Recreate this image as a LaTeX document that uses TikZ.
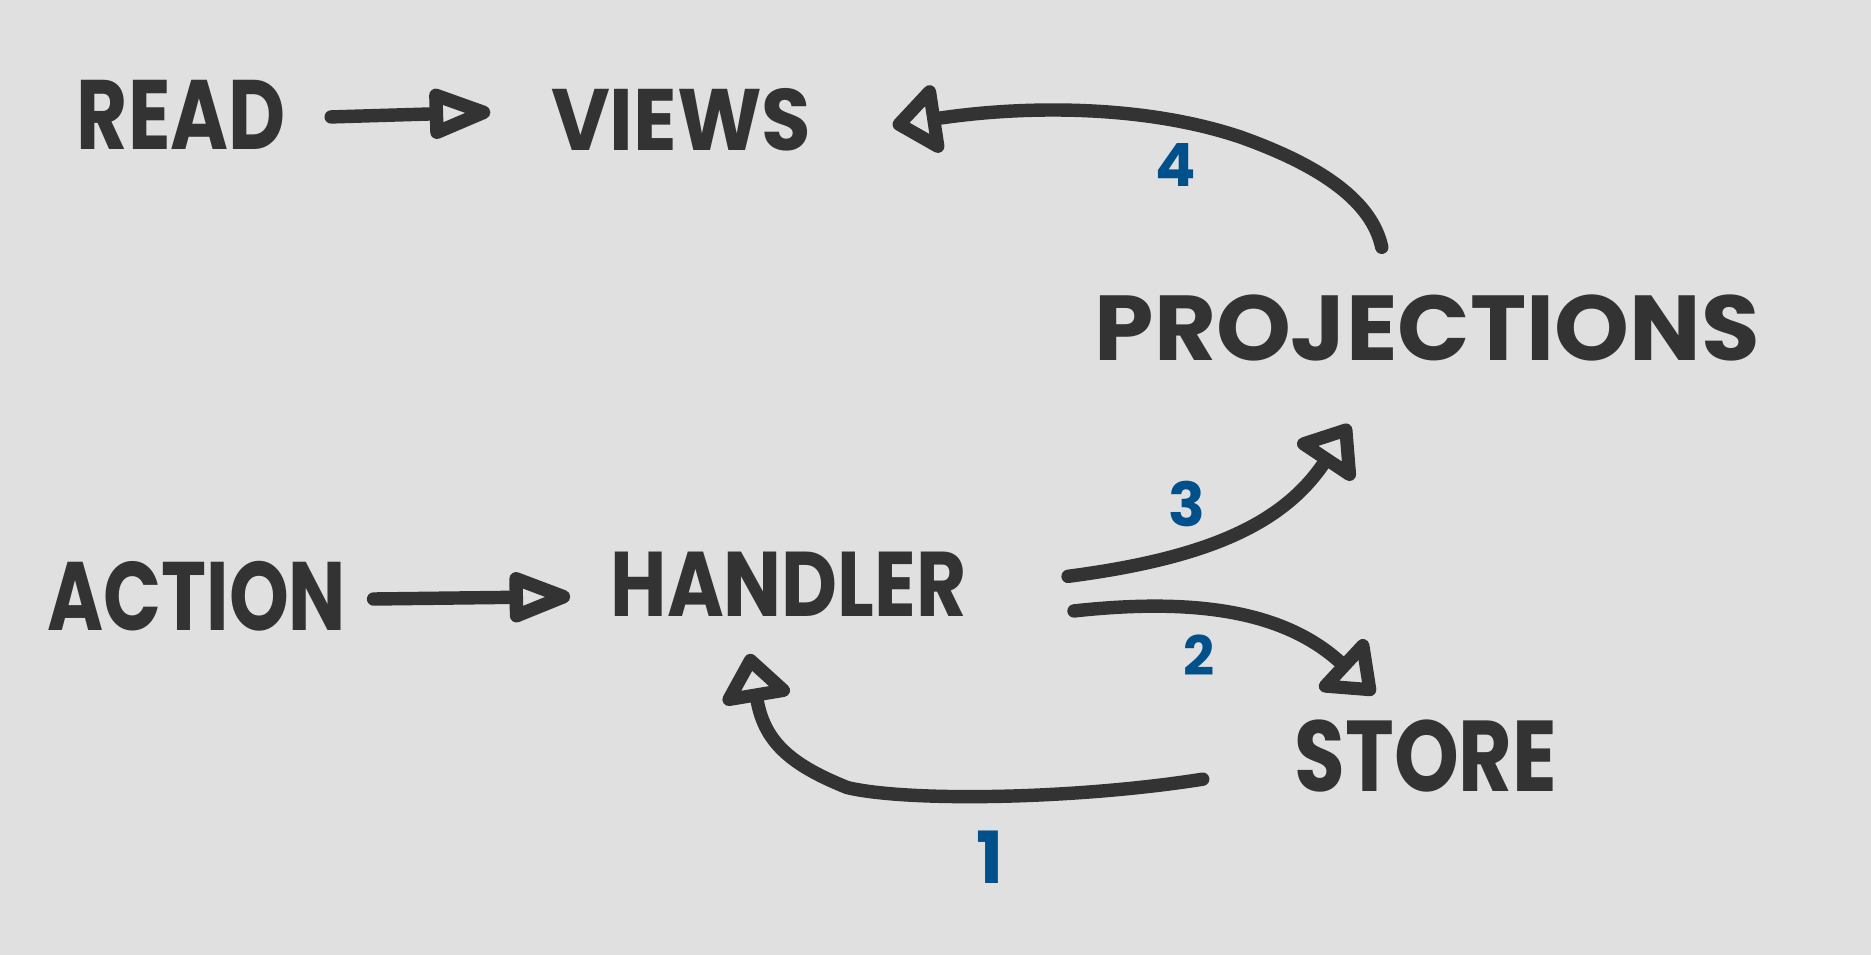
\documentclass[tikz,border=0pt]{standalone}
\usepackage{fontspec}
\usetikzlibrary{arrows.meta}
\newfontfamily\hand{Poppins}
\definecolor{bgc}{HTML}{E0E0E0}
\definecolor{ink}{HTML}{333333}
\definecolor{numblue}{HTML}{00508C}
\newcommand\hw[3]{\resizebox{#1cm}{#2cm}{\hand\bfseries #3}}
\tikzset{
  word/.style={inner sep=0pt, outer sep=0pt, text=ink},
  num/.style={inner sep=0pt, outer sep=0pt, text=numblue},
  conn/.style={draw=ink, line width=3.2pt, line cap=round, line join=round},
  tipthin/.style={-{Triangle[open, round, length=0.62cm, width=0.44cm]}},
  tipwide/.style={-{Triangle[open, round, length=0.44cm, width=0.66cm]}},
}
\begin{document}
\begin{tikzpicture}[x=0.01cm, y=-0.01cm]
\fill[bgc] (0,0) rectangle (1568,800);
\useasboundingbox (0,0) rectangle (1568,800);

% words
\node[word] (read)    at (152,96)   {\hw{1.75}{0.58}{READ}};
\node[word] (views)   at (571,100)  {\hw{2.18}{0.52}{VIEWS}};
\node[word] (proj)    at (1196,275) {\hw{5.57}{0.55}{PROJECTIONS}};
\node[word] (action)  at (165,500)  {\hw{2.50}{0.58}{ACTION}};
\node[word] (handler) at (661,490)  {\hw{2.98}{0.54}{HANDLER}};
\node[word] (store)   at (1195,634) {\hw{2.20}{0.60}{STORE}};

% step numbers
\node[num] (n4) at (985,138) {\resizebox{!}{0.36cm}{\hand\bfseries 4}};
\node[num] (n3) at (995,422) {\resizebox{!}{0.38cm}{\hand\bfseries 3}};
\node[num] (n2) at (1005,549) {\resizebox{!}{0.34cm}{\hand\bfseries 2}};
\node[num] (n1) at (830,718) {\resizebox{!}{0.44cm}{\hand\bfseries 1}};

% connectors
\draw[conn, tipthin] ([shift={(38,2)}]read.east) -- ([shift={(-51,-6)}]views.west);
\draw[conn, tipthin] ([shift={(23,2)}]action.east) -- ([shift={(-34,10)}]handler.west);

\draw[conn, tipwide] ([shift={(-38,-40)}]proj.north)
  .. controls (1150,170) and (1110,140) .. (1040,115)
  .. controls (960,88) and (860,88) .. ([shift={(68,5)}]views.east);

\draw[conn, tipwide] ([shift={(85,-7)}]handler.east)
  .. controls (1010,468) and (1075,440) .. ([shift={(-65,53)}]proj.south);

\draw[conn, tipwide] ([shift={(90,22)}]handler.east)
  .. controls (1010,500) and (1080,515) .. ([shift={(-43,-22)}]store.north);

\draw[conn, tipwide] ([shift={(-77,19)}]store.west)
  .. controls (900,670) and (760,672) .. (710,660)
  .. controls (660,640) and (640,620) .. ([shift={(-33,31)}]handler.south);
\end{tikzpicture}
\end{document}
